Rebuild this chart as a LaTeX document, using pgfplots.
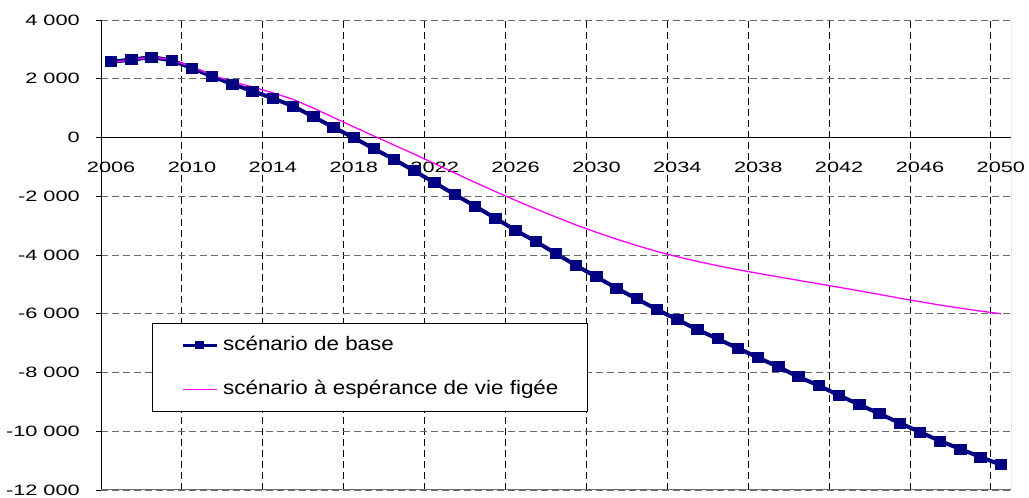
\documentclass[border=0pt]{standalone}
\usepackage{fontspec}
\usepackage{pgfplots}
\usepackage{pgfplotstable}
\pgfplotsset{compat=1.18}
\setmainfont{Liberation Sans}
\newfontfamily\tickfont{Liberation Sans}[FakeStretch=1.45]
\newfontfamily\legfont{Liberation Sans}[FakeStretch=1.15]
\definecolor{basenavy}{RGB}{0,0,128}
\definecolor{figee}{RGB}{255,0,255}
\definecolor{gridgray}{RGB}{105,105,105}

\pgfplotsset{
  markedleg/.style={legend image code/.code={%
    \draw[mark repeat=2, mark phase=2, ##1, line width=3bp, mark size=2.8bp]
      plot coordinates {(0bp,0bp) (17bp,0bp) (34bp,0bp)};}},
  plainleg/.style={legend image code/.code={%
    \draw[figee, line width=1.3bp] (0bp,0bp) -- (34bp,0bp);}},
}

% year, baseline scenario, frozen life-expectancy scenario
\pgfplotstableread{
year base figee
2006 2579 2560
2007 2647 2640
2008 2736 2740
2009 2623 2650
2010 2362 2400
2011 2078 2120
2012 1816 1900
2013 1578 1720
2014 1335 1520
2015 1067 1300
2016 705 1000
2017 345 680
2018 -10 360
2019 -385 50
2020 -750 -260
2021 -1140 -570
2022 -1544 -890
2023 -1942 -1210
2024 -2340 -1530
2025 -2749 -1840
2026 -3158 -2140
2027 -3543 -2430
2028 -3952 -2710
2029 -4361 -2980
2030 -4747 -3230
2031 -5134 -3460
2032 -5496 -3680
2033 -5860 -3880
2034 -6201 -4060
2035 -6541 -4220
2036 -6859 -4365
2037 -7178 -4500
2038 -7495 -4625
2039 -7813 -4745
2040 -8153 -4865
2041 -8449 -4980
2042 -8780 -5100
2043 -9097 -5220
2044 -9403 -5345
2045 -9721 -5470
2046 -10028 -5590
2047 -10334 -5705
2048 -10606 -5810
2049 -10879 -5910
2050 -11141 -6000
}\soldes

\begin{document}
\begin{tikzpicture}[x=1bp,y=1bp]
\useasboundingbox (-101,-8) rectangle (928,490);
\begin{axis}[
  at={(0,0)}, anchor=south west,
  scale only axis, width=910bp, height=470bp,
  xmin=0, xmax=45, ymin=-12000, ymax=4000,
  axis x line=middle, axis y line=left,
  axis line style={-, black, line width=0.9bp},
  hide obscured x ticks=false, hide obscured y ticks=false,
  scaled x ticks=false, scaled y ticks=false,
  xtick={0.5,4.5,...,44.5},
  xticklabels={2006,2010,2014,2018,2022,2026,2030,2034,2038,2042,2046,2050},
  minor xtick={0,4,...,44},
  xminorgrids=true,
  minor grid style={black, dash pattern=on 7bp off 4bp, line width=0.8bp},
  minor tick length=0pt,
  xtick style={draw=none},
  ytick={-12000,-10000,...,4000},
  yticklabels={-12 000,-10 000,-8 000,-6 000,-4 000,-2 000,0,2 000,4 000},
  ymajorgrids=true,
  major grid style={gridgray, dash pattern=on 7bp off 4bp, line width=0.8bp},
  tick align=outside,
  major tick length=5bp,
  y tick style={black, line width=0.8bp},
  xticklabel style={font=\tickfont\fontsize{15bp}{18bp}\selectfont, anchor=north, inner sep=0pt, yshift=-19bp},
  yticklabel style={font=\tickfont\fontsize{15bp}{18bp}\selectfont, anchor=east, inner sep=0pt, xshift=-16bp},
  legend cell align=left,
  legend style={at={(0.0557,0.356)}, anchor=north west, draw=black, fill=white,
    line width=0.9bp, font=\legfont\fontsize{19.5bp}{22bp}\selectfont,
    inner xsep=29bp, inner ysep=13bp, row sep=26.7bp, column sep=5bp,
    nodes={inner sep=0pt, text height=14bp, text depth=4bp}},
]
\addplot[basenavy, line width=4bp, mark=square*, mark size=3.5bp,
  mark options={solid, xscale=1.2}, markedleg]
  table[x expr=\thisrow{year}-2005.5, y=base] {\soldes};
\addlegendentry{scénario de base}
\addplot[figee, line width=1.3bp, mark=none, plainleg]
  table[x expr=\thisrow{year}-2005.5, y=figee] {\soldes};
\addlegendentry{scénario à espérance de vie figée}
\draw[gridgray, line width=1bp] (rel axis cs:1,1) -- (rel axis cs:1,0) -- (rel axis cs:0,0);
\end{axis}
\end{tikzpicture}
\end{document}
